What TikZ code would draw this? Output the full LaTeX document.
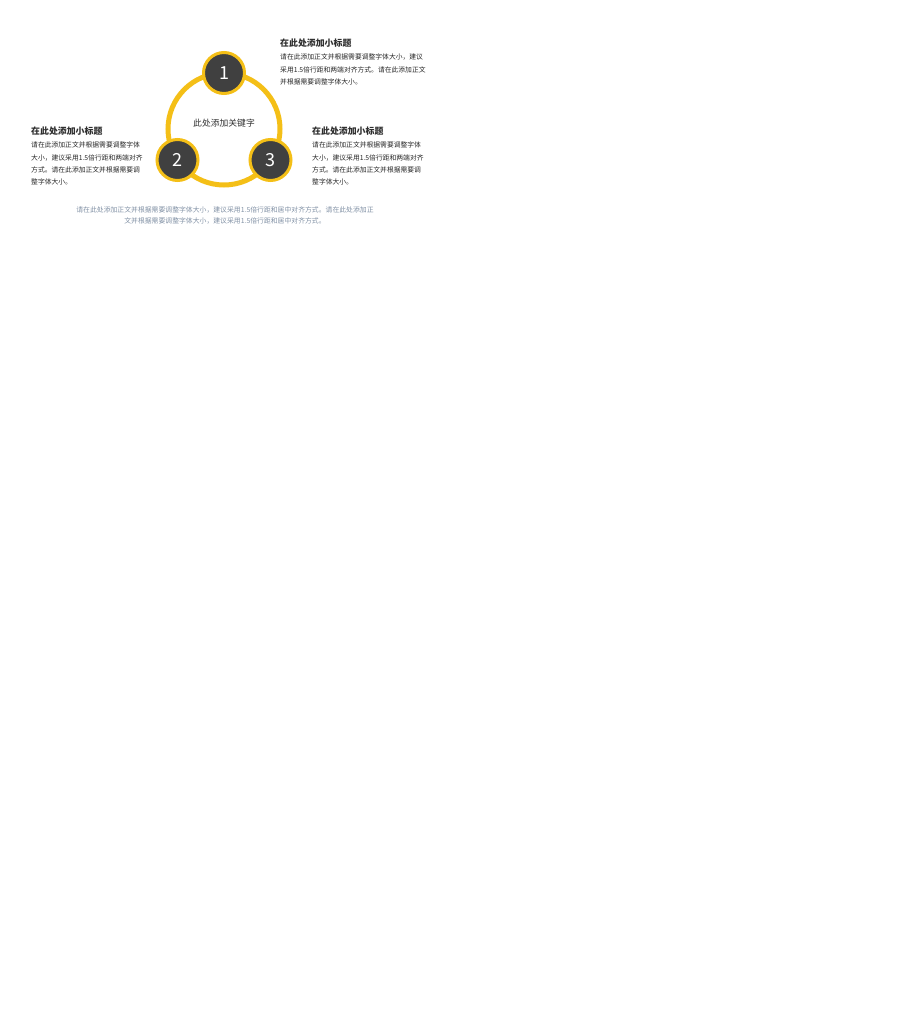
\documentclass[tikz,border=0pt]{standalone}
\usepackage{fontspec}
\setmainfont{Noto Sans CJK SC}
\usetikzlibrary{positioning}
\definecolor{ringyellow}{HTML}{F4BF17}
\definecolor{discgray}{HTML}{404040}
\definecolor{headgray}{HTML}{2E2E2E}
\definecolor{notegray}{HTML}{8090A4}

\begin{document}
\begin{tikzpicture}[x=1pt,y=-1pt,
  disc/.style={circle,draw=ringyellow,fill=discgray,line width=3pt,minimum size=41pt,inner sep=0pt,text=white,font=\fontsize{18}{18}\selectfont},
  title/.style={anchor=base west,inner sep=0pt,text=headgray,font=\fontsize{8.9}{10}\selectfont\bfseries},
  body/.style={anchor=north west,inner sep=0pt,align=left,text=black!85,font=\fontsize{6.8}{12.1}\selectfont},
  note/.style={anchor=north,inner sep=0pt,align=center,text=notegray,font=\fontsize{6.85}{11.5}\selectfont}]

	\useasboundingbox (0,0) rectangle (900,1012);

	% The ring
	\coordinate (ctr) at (224,129);
	\draw [ringyellow,line width=5pt] (ctr) circle (56pt);
	\node [inner sep=0pt,font=\fontsize{8.8}{10}\selectfont,text=headgray] at (224,123) (key) {此处添加关键字};

	% The discs
	\node [disc] at (224,73) (d1) {1};
	\node [disc] at (177.5,160) (d2) {2};
	\node [disc] at (270.5,160) (d3) {3};

	% Texts of disc 1
	\node [title] at (280,46.5) (t1) {在此处添加小标题};
	\node [body] at (280,54) (b1) {请在此添加正文并根据需要调整字体大小，建议\\采用1.5倍行距和两端对齐方式。请在此添加正文\\并根据需要调整字体大小。};

	% Texts of disc 2
	\node [title] at (31,134) (t2) {在此处添加小标题};
	\node [body] at (31,142) (b2) {请在此添加正文并根据需要调整字体\\大小，建议采用1.5倍行距和两端对齐\\方式。请在此添加正文并根据需要调\\整字体大小。};

	% Texts of disc 3
	\node [title] at (312,134) (t3) {在此处添加小标题};
	\node [body] at (312,142) (b3) {请在此添加正文并根据需要调整字体\\大小，建议采用1.5倍行距和两端对齐\\方式。请在此添加正文并根据需要调\\整字体大小。};

	% Bottom note
	\node [note] at (225,206) (n1) {请在此处添加正文并根据需要调整字体大小，建议采用1.5倍行距和居中对齐方式。请在此处添加正\\文并根据需要调整字体大小，建议采用1.5倍行距和居中对齐方式。};

\end{tikzpicture}
\end{document}
